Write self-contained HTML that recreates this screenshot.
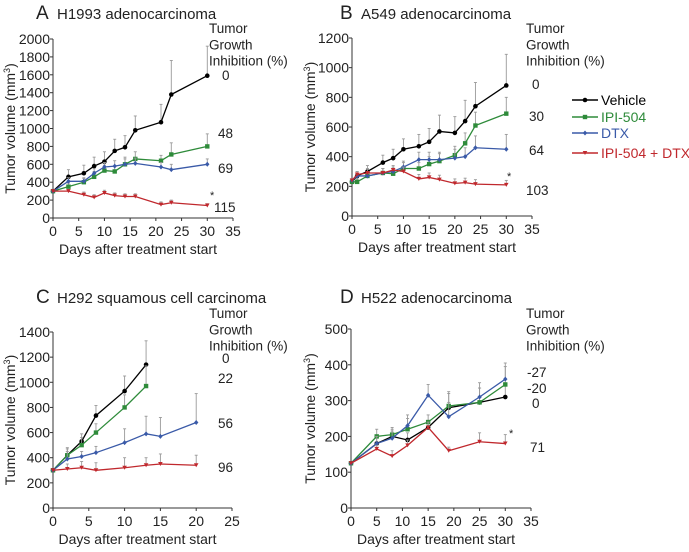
<!DOCTYPE html>
<html><head><meta charset="utf-8">
<style>
html,body{margin:0;padding:0;background:#fff;}
svg{display:block;font-family:"Liberation Sans",Arial,sans-serif;}
</style></head>
<body>
<svg id="chart" width="689" height="552" viewBox="0 0 689 552"></svg>
<script>
// ---------- Data ----------
const seriesNames = ["Vehicle","IPI-504","DTX","IPI-504 + DTX"];
// Panel A
const aDays = [0,3,6,8,10,12,14,16,21,23,30];
const aVehicle = [300,460,500,580,630,750,790,980,1070,1380,1590];
const aIpi = [300,350,400,460,530,520,600,660,640,710,800];
const aDtx = [300,410,410,500,570,580,600,610,570,540,600];
const aCombo = [300,300,260,230,280,250,240,240,150,170,140];
const aVehicleErr = [0,80,90,100,110,130,130,160,200,380,330];
const aIpiErr = [0,40,40,60,60,60,80,80,60,130,140];
const aDtxErr = [0,40,40,50,50,60,60,60,50,60,60];
const aComboErr = [0,20,30,30,30,30,30,30,30,30,20];
const aTGI = ["0","48","69","115"];
// Panel B
const bDays = [0,1,3,6,8,10,13,15,17,20,22,24,30];
const bVehicle = [230,270,300,360,390,450,470,500,570,560,640,740,880];
const bIpi = [230,230,270,290,285,320,320,350,370,410,490,610,690];
const bDtx = [240,270,270,290,300,330,380,380,380,390,400,460,450];
const bCombo = [240,280,290,290,310,300,250,260,245,220,225,215,210];
const bVehicleErr = [0,30,40,50,60,70,80,90,110,110,140,160,210];
const bIpiErr = [0,20,30,30,30,40,40,50,50,60,70,90,110];
const bDtxErr = [0,20,30,30,30,40,50,50,50,60,60,80,100];
const bComboErr = [0,20,30,30,30,30,30,30,30,30,30,30,30];
const bTGI = ["0","30","64","103"];
// Panel C
const cDaysFull = [0,2,4,6,10,13,15,20];
const cVehicle = [300,420,530,735,930,1140,null,null];
const cIpi = [300,420,500,600,800,970,null,null];
const cDtx = [300,390,410,440,520,590,570,680];
const cCombo = [300,310,320,300,320,340,350,340];
const cVehicleErr = [0,60,60,80,120,190,0,0];
const cIpiErr = [0,50,60,70,100,160,0,0];
const cDtxErr = [0,60,40,50,110,140,150,230];
const cComboErr = [0,40,50,60,80,60,80,80];
const cTGI = ["0","22","56","96"];
// Panel D
const dDays = [0,5,8,11,15,19,25,30];
const dVehicle = [125,180,200,190,225,280,295,310];
const dIpi = [125,200,205,220,240,285,295,345];
const dDtx = [125,180,195,230,315,255,310,360];
const dCombo = [125,165,145,175,225,160,185,180];
const dVehicleErr = [0,20,20,20,20,40,40,40];
const dIpiErr = [0,20,20,30,20,40,40,50];
const dDtxErr = [0,20,20,30,30,40,40,45];
const dComboErr = [0,10,15,15,15,10,25,25];
const dTGI = ["-27","-20","0","71"];

const colors = ["#000000","#2e8b3a","#3a5aa8","#c0282d"];
const NS = "http://www.w3.org/2000/svg";
const svg = document.getElementById("chart");
function mk(tag, attrs, parent, text){
  const e=document.createElementNS(NS,tag);
  for(const k in attrs) e.setAttribute(k,attrs[k]);
  if(text!==undefined) e.textContent=text;
  (parent||svg).appendChild(e); return e;
}

function marker(g,type,x,y,c){
  let m;
  if(type===0) m=mk("circle",{cx:x,cy:y,r:2.3,fill:c},g);
  else if(type===1) m=mk("rect",{x:x-2.2,y:y-2.2,width:4.4,height:4.4,fill:c},g);
  else if(type===2) m=mk("polygon",{points:`${x},${y-2.5} ${x+2.2},${y} ${x},${y+2.5} ${x-2.2},${y}`,fill:c},g);
  else m=mk("polygon",{points:`${x-2.3},${y-2} ${x+2.3},${y-2} ${x},${y+2}`,fill:c},g);
  
  
}

function panel(p){
  const g=mk("g",{});
  const sx=v=>p.x0+(v-0)/p.xmax*(p.x1-p.x0);
  const sy=v=>p.y0-(v/p.ymax)*(p.y0-p.y1);
  // axes
  mk("line",{x1:p.x0,y1:p.y0,x2:p.x1,y2:p.y0,stroke:"#333","stroke-width":1,},g);
  mk("line",{x1:p.x0,y1:p.y0,x2:p.x0,y2:p.y1,stroke:"#333","stroke-width":1,},g);
  for(let v=0;v<=p.xmax;v+=5){
    mk("line",{x1:sx(v),y1:p.y0,x2:sx(v),y2:p.y0+3,stroke:"#333"},g);
    mk("text",{x:sx(v),y:p.y0+18,"text-anchor":"middle","font-size":14,fill:"#222",},g,String(v));
  }
  for(let v=0;v<=p.ymax;v+=p.ystep){
    mk("line",{x1:p.x0-3,y1:sy(v),x2:p.x0,y2:sy(v),stroke:"#333"},g);
    mk("text",{x:p.x0-3,y:sy(v)+5,"text-anchor":"end","font-size":14,fill:"#222",},g,String(v));
  }
  mk("text",{x:(p.x0+p.x1)/2-5,y:p.y0+36,"text-anchor":"middle","font-size":14,fill:"#222",},g,"Days after treatment start");
  const yt=mk("text",{x:0,y:0,"text-anchor":"middle","font-size":14,fill:"#222",transform:`translate(${p.ytx},${(p.y0+p.y1)/2}) rotate(-90)`,},g);
  yt.appendChild(document.createTextNode("Tumor volume (mm"));
  mk("tspan",{"baseline-shift":"super","font-size":9},yt,"3");
  yt.appendChild(document.createTextNode(")"));
  // title
  mk("text",{x:p.tx,y:p.ty,"font-size":19,fill:"#222",},g,p.id);
  mk("text",{x:p.tx+21,y:p.ty,"font-size":15,fill:"#222",},g,p.title);
  // TGI header
  ["Tumor","Growth","Inhibition (%)"].forEach((t,i)=>mk("text",{x:p.tgx,y:p.tgy+i*16.3,"font-size":13.5,fill:"#222",},g,t));
  p.tgi.forEach((t,i)=>mk("text",{x:p.tvx[i],y:p.tvy[i],"font-size":13.5,fill:"#222",},g,t));
  if(p.star) mk("text",{x:p.star[0],y:p.star[1],"font-size":11,fill:"#222",},g,"*");
  // series
  p.series.forEach((s,k)=>{
    const sg=mk("g",{},g);
    const pts=[];
    s.vals.forEach((v,i)=>{ if(v!==null) pts.push([sx(p.days[i]),sy(v),s.err[i]]); });
    pts.forEach(([x,y,e])=>{ if(e>0){
      const ey=y-(e/p.ymax)*(p.y0-p.y1);
      mk("line",{x1:x,y1:y,x2:x,y2:ey,stroke:"#999","stroke-width":0.9},sg);
      mk("line",{x1:x-1.5,y1:ey,x2:x+1.5,y2:ey,stroke:"#999","stroke-width":0.9},sg);
    }});
    mk("polyline",{points:pts.map(q=>q[0]+","+q[1]).join(" "),fill:"none",stroke:colors[k],"stroke-width":1.3},sg);
    pts.forEach(([x,y])=>marker(sg,k,x,y,colors[k]));
  });
}

panel({id:"A",title:"H1993 adenocarcinoma",x0:53,x1:233,xmax:35,y0:218,y1:39,ymax:2000,ystep:200,ytx:15,tx:36,ty:19,
  tgx:209,tgy:33,tgi:aTGI,tvx:[222,218,218,214],tvy:[80,138,173,212],star:[210,199],days:aDays,
  series:[{vals:aVehicle,err:aVehicleErr},{vals:aIpi,err:aIpiErr},{vals:aDtx,err:aDtxErr},{vals:aCombo,err:aComboErr}]});
panel({id:"B",title:"A549 adenocarcinoma",x0:352,x1:532,xmax:35,y0:216,y1:38,ymax:1200,ystep:200,ytx:315,tx:340,ty:19,
  tgx:526,tgy:33,tgi:bTGI,tvx:[532,529,529,526],tvy:[89,121,155,195],star:[507,180],days:bDays,
  series:[{vals:bVehicle,err:bVehicleErr},{vals:bIpi,err:bIpiErr},{vals:bDtx,err:bDtxErr},{vals:bCombo,err:bComboErr}]});
panel({id:"C",title:"H292 squamous cell carcinoma",x0:53,x1:232,xmax:25,y0:508,y1:332,ymax:1400,ystep:200,ytx:15,tx:36,ty:303,
  tgx:209,tgy:318,tgi:cTGI,tvx:[222,218,218,218],tvy:[363,383,428,472],star:null,days:cDaysFull,
  series:[{vals:cVehicle,err:cVehicleErr},{vals:cIpi,err:cIpiErr},{vals:cDtx,err:cDtxErr},{vals:cCombo,err:cComboErr}]});
panel({id:"D",title:"H522 adenocarcinoma",x0:351,x1:531,xmax:35,y0:508,y1:329,ymax:500,ystep:100,ytx:315,tx:340,ty:303,
  tgx:526,tgy:318,tgi:dTGI,tvx:[527,527,532,530],tvy:[377,393,408,452],star:[509,437],days:dDays,
  series:[{vals:dVehicle,err:dVehicleErr},{vals:dIpi,err:dIpiErr},{vals:dDtx,err:dDtxErr},{vals:dCombo,err:dComboErr}]});

// legend
const lg=mk("g",{});
[100,117,133,153].forEach((y,k)=>{
  const e=mk("g",{},lg);
  mk("line",{x1:572,y1:y,x2:598,y2:y,stroke:colors[k],"stroke-width":1.6},e);
  marker(e,k,585,y,colors[k]);
  mk("text",{x:601,y:y+5,"font-size":14,fill:colors[k],},e,seriesNames[k]);
});
</script>
</body></html>
